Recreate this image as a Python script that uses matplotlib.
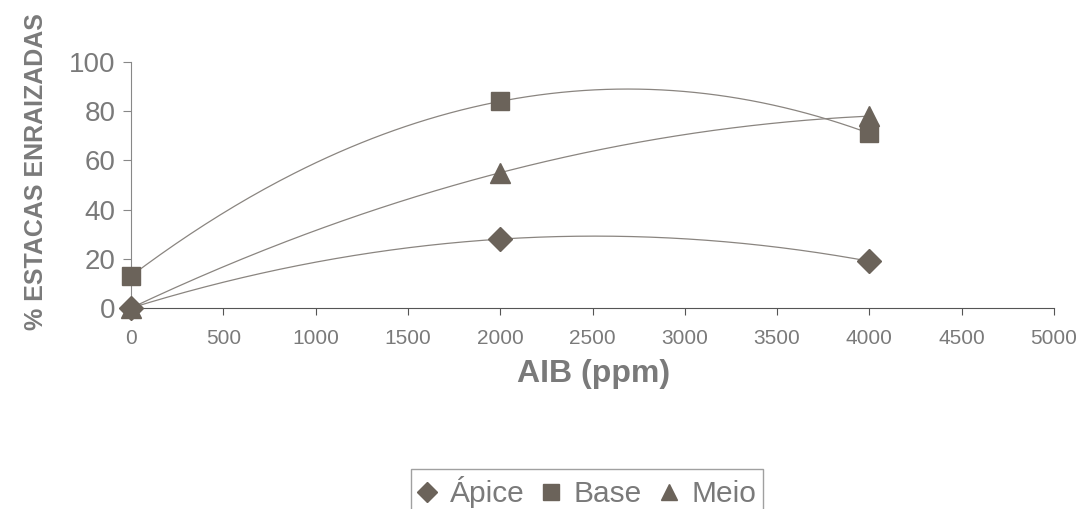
import numpy as np
import matplotlib
matplotlib.use("Agg")
import matplotlib.pyplot as plt

aib = [0, 2000, 4000]
apice = [0, 28, 19]
base = [13, 84, 71]
meio = [0, 55, 78]
xticks = [0, 500, 1000, 1500, 2000, 2500, 3000, 3500, 4000, 4500, 5000]
yticks = [0, 20, 40, 60, 80, 100]

plt.rcParams['font.family'] = ['Liberation Sans', 'DejaVu Sans']
txt = '#7a7a7a'
mk = '#6b635a'
ln = '#8a8580'

fig = plt.figure(figsize=(10.82, 5.09), dpi=100)
ax = fig.add_axes([131/1082, 1 - 308/509, (1054 - 131)/1082, 246/509])

xs = np.linspace(0, 4000, 200)
series = [(apice, 'D', 'Ápice', 12), (base, 's', 'Base', 13), (meio, '^', 'Meio', 14)]
handles = []
for vals, m, lab, ms in series:
    c = np.polyfit(aib, vals, 2)
    ax.plot(xs, np.polyval(c, xs), color=ln, lw=0.9, zorder=2)
    h, = ax.plot(aib, vals, linestyle='none', marker=m, markersize=ms, color=mk,
                 markeredgecolor=mk, label=lab, zorder=3, clip_on=False)
    handles.append(h)

ax.set_xlim(0, 5000)
ax.set_ylim(0, 100)
ax.set_xticks(xticks)
ax.set_yticks(yticks)
ax.set_xticklabels([str(v) for v in xticks], fontsize=15, color=txt)
ax.set_yticklabels([str(v) for v in yticks], fontsize=20, color=txt)
ax.tick_params(axis='x', length=5, color='#555555', pad=10)
ax.tick_params(axis='y', length=6, color='#888888', pad=5)
for s in ['top', 'right']:
    ax.spines[s].set_visible(False)
ax.spines['left'].set_color('#888888')
ax.spines['bottom'].set_color('#555555')

fig.text(594/1082, 1 - 374/509, 'AIB (ppm)', fontsize=23, fontweight='bold',
         color=txt, ha='center', va='center')
fig.text(36/1082, 1 - 172/509, '% ESTACAS ENRAIZADAS', fontsize=18, fontweight='bold',
         color=txt, ha='center', va='center', rotation=90)

leg = fig.legend(handles=handles, loc='center', bbox_to_anchor=(587/1082, 1 - 492/509),
                 ncol=3, fontsize=21.5, frameon=True, fancybox=False,
                 handlelength=0.6, handletextpad=0.45, columnspacing=0.6,
                 borderpad=0.25, markerscale=0.85)
leg.get_frame().set_edgecolor('#888888')
leg.get_frame().set_linewidth(1.0)
for t in leg.get_texts():
    t.set_color(txt)

fig.savefig('out.png', dpi=100)
